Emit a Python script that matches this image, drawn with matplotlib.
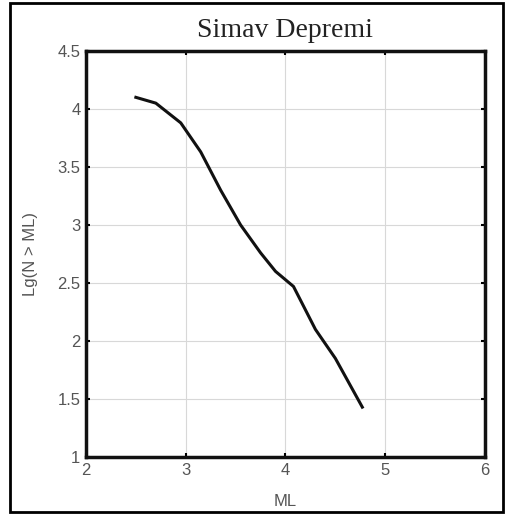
import matplotlib
matplotlib.use('Agg')
import matplotlib.pyplot as plt
from matplotlib.patches import Rectangle

# Frequency-magnitude curve
ml = [2.5, 2.7, 2.95, 3.15, 3.35, 3.55, 3.75, 3.9, 4.08, 4.3, 4.5, 4.77]
lgN = [4.1, 4.05, 3.88, 3.63, 3.3, 3.0, 2.76, 2.6, 2.47, 2.1, 1.85, 1.43]
xticks = [2, 3, 4, 5, 6]
yticks = [1, 1.5, 2, 2.5, 3, 3.5, 4, 4.5]
yticklabels = ['1', '1.5', '2', '2.5', '3', '3.5', '4', '4.5']

fig = plt.figure(figsize=(5.1, 5.16), dpi=100)
ax = fig.add_axes([0.1686, 0.1143, 0.7824, 0.787])

ax.plot(ml, lgN, color='#111111', linewidth=2.2)

ax.set_xlim(2, 6)
ax.set_ylim(1, 4.5)
ax.set_xticks(xticks)
ax.set_yticks(yticks)
ax.set_yticklabels(yticklabels)
ax.grid(True, color='#d8d8d8', linewidth=0.8)
ax.tick_params(direction='in', length=3, width=1.5, top=True, right=True,
               labelsize=12, labelcolor='#555555', pad=4)
for lbl in ax.get_xticklabels() + ax.get_yticklabels():
    lbl.set_family('Liberation Sans')
for sp in ax.spines.values():
    sp.set_linewidth(2.5)
    sp.set_color('#111111')

ax.set_xlabel('ML', fontsize=12, color='#555555', family='Liberation Sans', labelpad=12)
ax.set_ylabel('Lg(N > ML)', fontsize=12, color='#555555', family='Liberation Sans', labelpad=14)
ax.set_title('Simav Depremi', fontsize=20, family='Liberation Serif', color='#222222', pad=10)

# outer frame around the whole picture
fig.patches.append(Rectangle((0.02, 0.008), 0.966, 0.986, transform=fig.transFigure,
                             fill=False, edgecolor='black', linewidth=2))

fig.savefig('out.png', dpi=100)
plt.close()
